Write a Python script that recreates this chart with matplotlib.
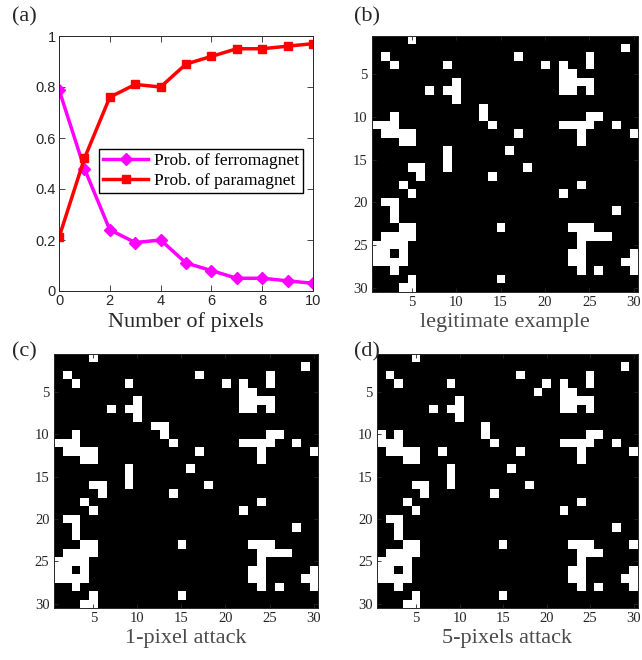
import numpy as np
import matplotlib
matplotlib.use('Agg')
import matplotlib.pyplot as plt

n_pixels = [0, 1, 2, 3, 4, 5, 6, 7, 8, 9, 10]
p_ferro = [0.79, 0.48, 0.24, 0.19, 0.20, 0.11, 0.08, 0.05, 0.05, 0.04, 0.03]
p_para = [0.21, 0.52, 0.76, 0.81, 0.80, 0.89, 0.92, 0.95, 0.95, 0.96, 0.97]

# white spins of the legitimate 30x30 configuration, row -> columns (1-based)
legit_white = {
	1: [5], 2: [29], 3: [2, 17, 25], 4: [3, 9, 20, 22, 25], 5: [22, 23],
	6: [10, 22, 23, 24, 25], 7: [7, 9, 10, 22, 23, 25], 8: [10], 9: [13],
	10: [3, 13, 25, 26], 11: [1, 2, 3, 14, 22, 23, 24, 25, 28],
	12: [2, 3, 4, 5, 17, 24, 30], 13: [4, 5, 24], 14: [9, 16], 15: [9],
	16: [5, 6, 9, 18], 17: [6, 14], 18: [4, 24], 19: [5, 22], 20: [2, 3],
	21: [3, 28], 22: [3], 23: [4, 5, 15, 23, 24, 25],
	24: [2, 3, 4, 5, 24, 25, 26, 27], 25: [1, 2, 3, 4, 24],
	26: [1, 2, 4, 23, 24, 30], 27: [1, 2, 3, 4, 23, 24, 29, 30],
	28: [3, 24, 26, 30], 29: [5, 15], 30: [4, 5],
}
# flipped pixels (row, col)
one_pixel_flips = [(9, 12)]
five_pixel_flips = [(5, 19), (10, 1), (12, 8), (23, 30), (24, 27)]

axis_ticks = [5, 10, 15, 20, 25, 30]

def make_image(flips):
	img = np.zeros((30, 30))
	for r in legit_white:
		for c in legit_white[r]:
			img[r - 1, c - 1] = 1
	for (r, c) in flips:
		img[r - 1, c - 1] = 1 - img[r - 1, c - 1]
	return img

serif = 'Liberation Serif'
sans = 'Liberation Sans'
dark = '#262626'

fig = plt.figure(figsize=(6.42, 6.6), dpi=100)
W, H = 642.0, 660.0

def add_axes(left, top, right, bottom):
	return fig.add_axes([left / W, (H - bottom) / H, (right - left) / W, (bottom - top) / H])

# (a) probabilities
ax = add_axes(59, 36, 313, 291)
ax.plot(n_pixels, p_ferro, color='#FF00FF', lw=2.5, marker='D', ms=6,
	mfc='#FF00FF', mec='#FF00FF', label='Prob. of ferromagnet')
ax.plot(n_pixels, p_para, color='#FF0000', lw=2.5, marker='s', ms=6,
	mfc='#FF0000', mec='#FF0000', label='Prob. of paramagnet')
ax.set_xlim(0, 10)
ax.set_ylim(0, 1)
ax.set_xticks([0, 2, 4, 6, 8, 10])
ax.set_yticks([0, 0.2, 0.4, 0.6, 0.8, 1])
ax.set_yticklabels(['0', '0.2', '0.4', '0.6', '0.8', '1'])
ax.tick_params(direction='in', top=True, right=True, length=4, width=0.6,
	labelsize=10.5, pad=2.5, colors=dark)
for lab in ax.get_xticklabels() + ax.get_yticklabels():
	lab.set_family(sans)
for s in ax.spines.values():
	s.set_color(dark)
	s.set_linewidth(0.7)
ax.set_xlabel('Number of pixels', family=serif, fontsize=16, color=dark, labelpad=2.5)
leg = ax.legend(loc='lower right', bbox_to_anchor=(0.961, 0.384), prop={'family': serif, 'size': 12.5},
	fancybox=False, edgecolor='black', framealpha=1, handlelength=2.6, handletextpad=0.3,
	borderpad=0.25, labelspacing=0.2, borderaxespad=0)
leg.get_frame().set_linewidth(1.0)

# (b), (c), (d) spin configurations
panels = [
	((372, 36, 638, 292), [], 'legitimate example'),
	((53.6, 354, 318, 608), one_pixel_flips, '1-pixel attack'),
	((377, 354, 638, 608), five_pixel_flips, '5-pixels attack'),
]
for box, flips, title in panels:
	axi = add_axes(*box)
	axi.imshow(make_image(flips), cmap='gray', vmin=0, vmax=1, aspect='auto',
		interpolation='nearest', extent=(0.5, 30.5, 30.5, 0.5))
	axi.set_xticks(axis_ticks)
	axi.set_yticks(axis_ticks)
	axi.tick_params(direction='in', top=True, right=True, length=3, width=0.6,
		labelsize=10.5, pad=3, colors=dark)
	for lab in axi.get_xticklabels() + axi.get_yticklabels():
		lab.set_family(serif)
	for s in axi.spines.values():
		s.set_color(dark)
		s.set_linewidth(0.7)
	axi.set_xlabel(title, family=serif, fontsize=16, color='#4a4a4a', labelpad=2.5)

for txt, x, y in [('(a)', 24, 17), ('(b)', 367, 17), ('(c)', 24, 352), ('(d)', 367, 352)]:
	fig.text(x / W, 1 - y / H, txt, family=serif, fontsize=16, color=dark, ha='center', va='center')

fig.savefig('out.png', dpi=100, facecolor='white')
